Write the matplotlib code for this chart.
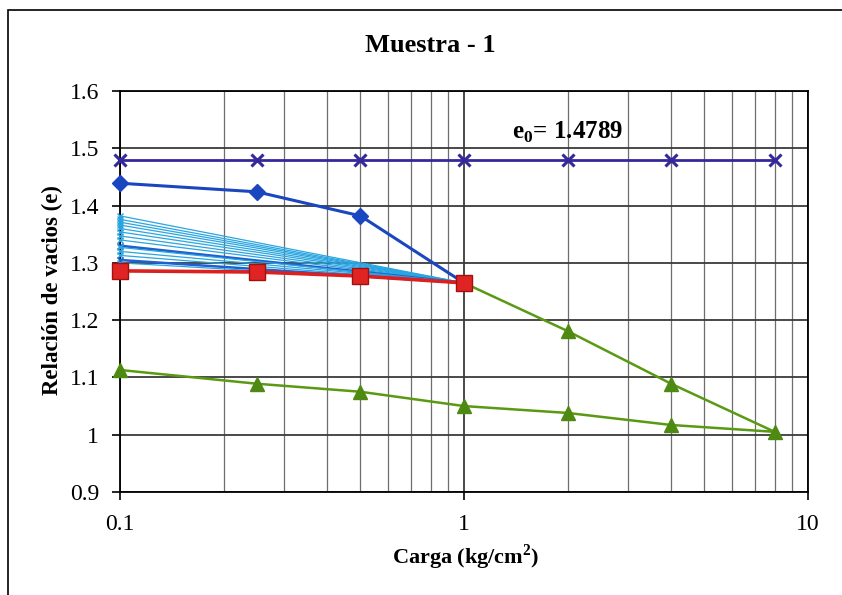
import numpy as np
import matplotlib.pyplot as plt
from matplotlib.patches import Rectangle

# Muestra - 1 : consolidation curve (void ratio vs load, log scale)

cargas = [0.1, 0.25, 0.5, 1, 2, 4, 8]
e_inicial_linea = [1.4789, 1.4789, 1.4789, 1.4789, 1.4789, 1.4789, 1.4789]

carga_carga = [0.1, 0.25, 0.5, 1]
e_carga = [1.439, 1.424, 1.382, 1.265]
e_recarga = [1.286, 1.284, 1.277, 1.265]

carga_ciclo = [1, 2, 4, 8, 4, 2, 1, 0.5, 0.25, 0.1]
e_ciclo = [1.265, 1.181, 1.089, 1.005, 1.017, 1.038, 1.050, 1.075, 1.089, 1.113]

# thin intermediate curves (start value at 0.1, all end at 1.265 at 1.0)
carga_fina = [0.1, 1]
e_fina_inicio = [1.382, 1.376, 1.371, 1.366, 1.360, 1.354, 1.347, 1.340,
                 1.330, 1.327, 1.320, 1.313, 1.305, 1.300]
e_fina_fin = 1.265
oscuras = [8, 12]

plt.rcParams['font.family'] = ['Liberation Serif', 'DejaVu Serif']

fig = plt.figure(figsize=(8.42, 5.95), dpi=100)
ax = fig.add_axes([120/842, 1-492/595, (808-120)/842, (492-91)/595])

# outer frame of the chart object
fig.patches.append(Rectangle((8/842, -0.05), 1.2, 1 - 10/595 + 0.05,
                             transform=fig.transFigure, fill=False,
                             edgecolor='black', linewidth=1.2))

ax.set_xscale('log')
ax.set_xlim(0.1, 10)
ax.set_ylim(0.9, 1.6)
ax.set_yticks(np.arange(0.9, 1.61, 0.1))
ax.set_yticklabels(['0.9', '1', '1.1', '1.2', '1.3', '1.4', '1.5', '1.6'])
ax.set_xticks([0.1, 1, 10])
ax.set_xticklabels(['0.1', '1', '10'])
ax.minorticks_on()
ax.tick_params(axis='y', which='minor', left=False)
ax.tick_params(axis='x', which='minor', bottom=False, labelbottom=False)
ax.tick_params(axis='both', which='major', labelsize=17, direction='out', length=6,
               width=1.2)
ax.tick_params(axis='y', which='major', pad=9)
ax.tick_params(axis='x', which='major', pad=10)

ax.grid(True, which='major', axis='y', color='#3a3a3a', linewidth=1.3)
ax.grid(True, which='major', axis='x', color='#3a3a3a', linewidth=1.3)
ax.grid(True, which='minor', axis='x', color='#6e6e6e', linewidth=0.9)
ax.set_axisbelow(True)
for s in ax.spines.values():
    s.set_linewidth(1.3)

# thin curves
for i, v in enumerate(e_fina_inicio):
    col = '#1f5fcf' if i in oscuras else '#2aa5e0'
    lw = 1.8 if i in oscuras else 0.9
    ax.plot(carga_fina, [v, e_fina_fin], color=col, linewidth=lw,
            marker='x', markersize=4, markevery=[0], zorder=3, clip_on=False)

ax.plot(cargas, e_inicial_linea, color='#35289a', linewidth=2, marker='x',
        markersize=9, markeredgewidth=2.2, zorder=4, clip_on=False)
ax.plot(carga_carga, e_carga, color='#1a46c0', linewidth=2.2, marker='D',
        markersize=8, zorder=5, clip_on=False)
ax.plot(carga_ciclo, e_ciclo, color='#5a9a12', linewidth=1.8, marker='^',
        markersize=10, markerfacecolor='#4e8a12', markeredgecolor='#4e8a12',
        zorder=5, clip_on=False)
ax.plot(carga_carga, e_recarga, color='#dc2020', linewidth=2.6, marker='s',
        markersize=11, markerfacecolor='#e02424', markeredgecolor='#a01010',
        zorder=6, clip_on=False)

ax.text(2.0, 1.527, r'e$_\mathregular{0}$= 1.4789', fontsize=18, fontweight='bold',
        ha='center', va='center', zorder=7)

fig.text(430/842, 1-45/595, 'Muestra - 1', fontsize=19, fontweight='bold',
         ha='center', va='center')
fig.text(52/842, 1-290/595, 'Relación de vacios (e)', fontsize=16.5, fontweight='bold',
         ha='center', va='center', rotation=90)
fig.text(466/842, 1-557/595, r'Carga (kg/cm$^\mathregular{2}$)', fontsize=16,
         fontweight='bold', ha='center', va='center')

fig.savefig('out.png', dpi=100)
